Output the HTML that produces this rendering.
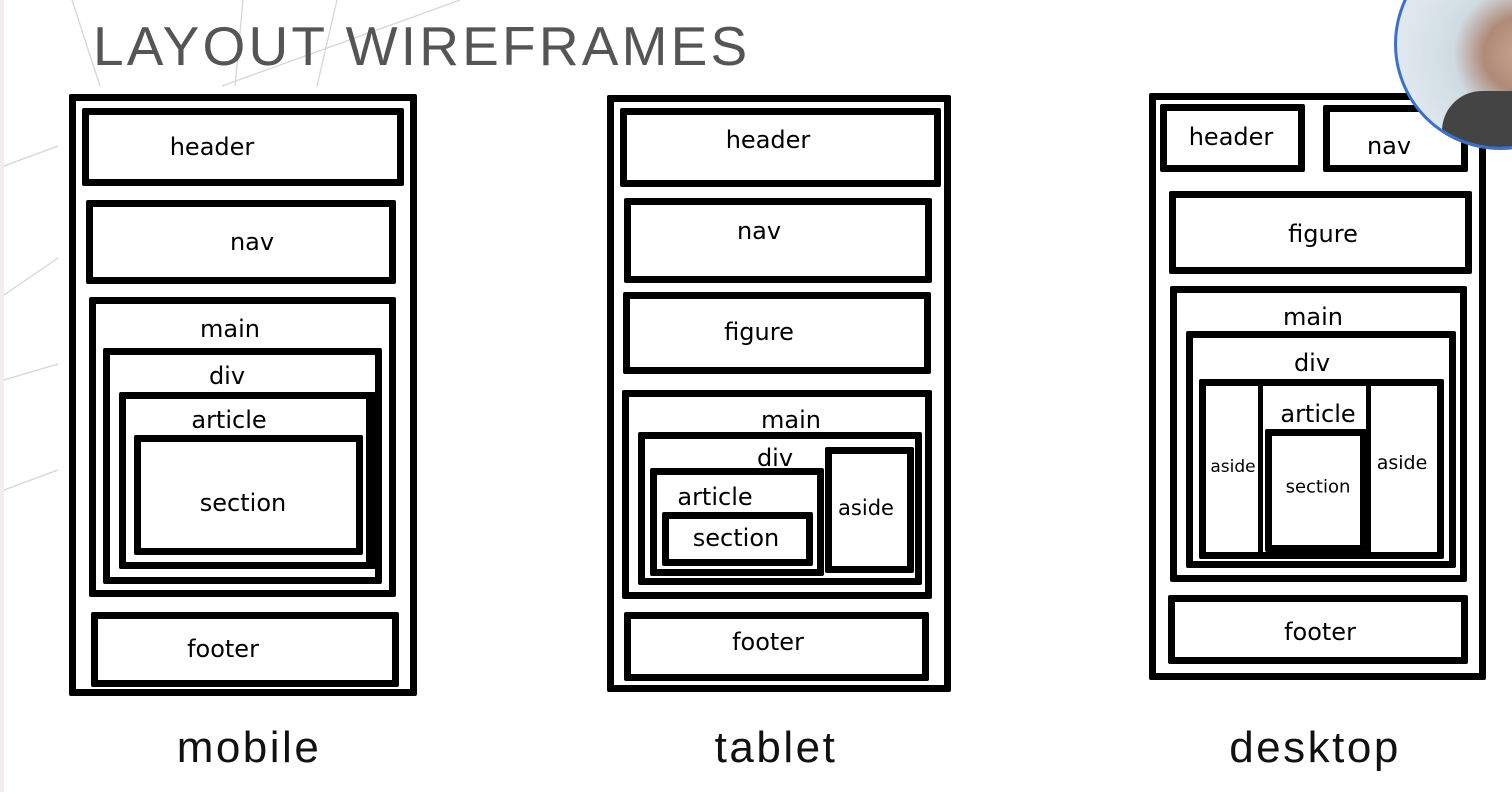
<!DOCTYPE html>
<html><head><meta charset="utf-8"><style>
html,body{margin:0;padding:0}
body{width:1512px;height:792px;position:relative;overflow:hidden;background:#fff;font-family:"Liberation Sans",sans-serif}
.b{position:absolute;box-sizing:border-box;border:7px solid #000;border-radius:2px}
.t{position:absolute;transform:translate(-50%,-50%);font-family:"DejaVu Sans","Liberation Sans",sans-serif;font-size:24px;color:#000;white-space:nowrap}
.cap{position:absolute;transform:translate(-50%,-50%);font-size:44px;color:#111;letter-spacing:2.5px}
</style></head><body>
<svg style="position:absolute;left:0;top:0" width="1512" height="792">
<g stroke="#d6d6d6" stroke-width="1.3" fill="none">
<line x1="72" y1="0" x2="100" y2="86"/><line x1="243" y1="0" x2="235" y2="86"/><line x1="337" y1="0" x2="317" y2="86"/>
<line x1="222" y1="86" x2="460" y2="0"/><line x1="4" y1="166" x2="58" y2="146"/><line x1="4" y1="295" x2="58" y2="258"/>
<line x1="4" y1="380" x2="58" y2="364"/><line x1="4" y1="490" x2="58" y2="470"/>
</g>
<rect x="0" y="0" width="4" height="792" fill="#f3eeee"/>
</svg>
<div style="position:absolute;left:93px;top:14px;font-size:55px;color:#555;letter-spacing:3.2px;line-height:64px">LAYOUT WIREFRAMES</div>

<!-- mobile -->
<div class="b" style="left:69px;top:94px;width:348px;height:602px"></div>
<div class="b" style="left:82px;top:108px;width:322px;height:78px"></div><div class="t" style="left:212px;top:147px">header</div>
<div class="b" style="left:86px;top:200px;width:310px;height:84px"></div><div class="t" style="left:252px;top:242px">nav</div>
<div class="b" style="left:89px;top:297px;width:307px;height:300px"></div><div class="t" style="left:230px;top:329px">main</div>
<div class="b" style="left:103px;top:348px;width:279px;height:236px"></div><div class="t" style="left:227px;top:376px">div</div>
<div class="b" style="left:119px;top:392px;width:257px;height:177px;border-right-width:10px"></div><div class="t" style="left:229px;top:420px">article</div>
<div class="b" style="left:134px;top:435px;width:229px;height:120px"></div><div class="t" style="left:243px;top:503px">section</div>
<div class="b" style="left:91px;top:612px;width:308px;height:75px"></div><div class="t" style="left:223px;top:649px">footer</div>
<div class="cap" style="left:249px;top:748px">mobile</div>

<!-- tablet -->
<div class="b" style="left:607px;top:95px;width:344px;height:597px"></div>
<div class="b" style="left:620px;top:108px;width:321px;height:79px"></div><div class="t" style="left:768px;top:140px">header</div>
<div class="b" style="left:624px;top:198px;width:308px;height:85px"></div><div class="t" style="left:759px;top:231px">nav</div>
<div class="b" style="left:623px;top:292px;width:308px;height:82px"></div><div class="t" style="left:759px;top:332px">figure</div>
<div class="b" style="left:622px;top:390px;width:310px;height:209px"></div><div class="t" style="left:791px;top:420px">main</div>
<div class="b" style="left:638px;top:432px;width:284px;height:153px"></div><div class="t" style="left:775px;top:458px">div</div>
<div class="b" style="left:650px;top:468px;width:174px;height:108px"></div><div class="t" style="left:715px;top:497px">article</div>
<div class="b" style="left:662px;top:512px;width:151px;height:54px"></div><div class="t" style="left:736px;top:538px">section</div>
<div class="b" style="left:825px;top:447px;width:89px;height:126px"></div><div class="t" style="left:866px;top:508px;font-size:21px">aside</div>
<div class="b" style="left:624px;top:612px;width:305px;height:69px"></div><div class="t" style="left:768px;top:642px">footer</div>
<div class="cap" style="left:776px;top:748px">tablet</div>

<!-- desktop -->
<div class="b" style="left:1149px;top:93px;width:337px;height:587px"></div>
<div class="b" style="left:1160px;top:104px;width:145px;height:68px"></div><div class="t" style="left:1231px;top:137px">header</div>
<div class="b" style="left:1323px;top:105px;width:145px;height:67px"></div><div class="t" style="left:1389px;top:146px">nav</div>
<div class="b" style="left:1169px;top:191px;width:303px;height:83px"></div><div class="t" style="left:1323px;top:234px">figure</div>
<div class="b" style="left:1170px;top:286px;width:297px;height:296px"></div><div class="t" style="left:1313px;top:317px">main</div>
<div class="b" style="left:1186px;top:331px;width:270px;height:237px"></div><div class="t" style="left:1312px;top:363px">div</div>
<div class="b" style="left:1199px;top:379px;width:245px;height:180px"></div>
<div style="position:absolute;left:1258px;top:384px;width:5px;height:170px;background:#000"></div>
<div style="position:absolute;left:1366px;top:384px;width:5px;height:170px;background:#000"></div>
<div class="t" style="left:1233px;top:467px;font-size:17px">aside</div>
<div class="t" style="left:1318px;top:414px">article</div>
<div class="b" style="left:1265px;top:429px;width:102px;height:123px"></div><div class="t" style="left:1318px;top:487px;font-size:18px">section</div>
<div class="t" style="left:1402px;top:463px;font-size:19px">aside</div>
<div class="b" style="left:1168px;top:595px;width:300px;height:69px"></div><div class="t" style="left:1320px;top:632px">footer</div>
<div class="cap" style="left:1315px;top:748px">desktop</div>

<!-- webcam -->
<div style="position:absolute;left:1390px;top:0;width:122px;height:160px;overflow:hidden">
<div style="position:absolute;left:4px;top:-62px;width:212px;height:212px;border-radius:50%;box-sizing:border-box;border:3px solid #3a6fd0;background:radial-gradient(circle at 60% 55%,#c9a48f 0,#b08a78 22%,#cfdbe2 40%,#dfe8ee 70%);overflow:hidden">
<div style="position:absolute;left:45px;top:150px;width:120px;height:80px;background:#444;border-radius:40px 40px 0 0"></div>
</div>
</div>
</body></html>
